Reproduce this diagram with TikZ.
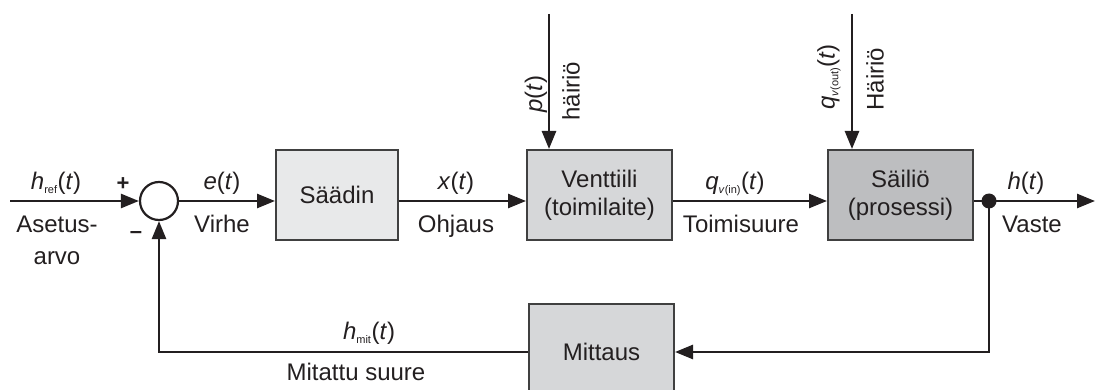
\documentclass[tikz,border=0pt]{standalone}
\usepackage{fontspec}
\setmainfont{Liberation Sans}
\usetikzlibrary{arrows.meta,calc}
\definecolor{txt}{HTML}{231F20}
\definecolor{boxA}{HTML}{E8E9EA}
\definecolor{boxB}{HTML}{D6D7D9}
\definecolor{boxC}{HTML}{BDBEC0}
\definecolor{edge}{HTML}{404040}
\begin{document}
\begin{tikzpicture}[x=1pt,y=-1pt,
  font=\fontsize{24}{28}\selectfont, text=txt,
  blk/.style={draw=edge, line width=2pt, minimum height=90pt, align=center, inner sep=0pt},
  sig/.style={line width=2.6pt, draw=txt, -{Triangle[length=18pt,width=14pt]}},
  lbl/.style={inner sep=0pt, anchor=base}]
\useasboundingbox (0,0) rectangle (1096,390);
% blocks
\node[circle, draw=txt, line width=2.2pt, minimum size=38pt, inner sep=0pt] (sum) at (159,201) {};
\node[blk, fill=boxA, minimum width=122pt] (saadin) at (337,195) {Säädin};
\node[blk, fill=boxB, minimum width=145pt] (vent) at (599.5,195) {Venttiili\\(toimilaite)};
\node[blk, fill=boxC, minimum width=145pt] (sail) at (900.5,195) {Säiliö\\(prosessi)};
\node[blk, fill=boxB, minimum width=145pt, minimum height=96pt] (mitt) at (601.5,352) {Mittaus};
% free ends
\coordinate (in) at (10,201);
\coordinate (out) at (1095,201);
\coordinate (br) at (989,201);
\coordinate (brd) at (989,352);
\coordinate (fbl) at (159,352);
\coordinate (dp) at (549,14);
\coordinate (dq) at (852,14);
% connectors
\draw[sig] (in) -- (sum.west);
\draw[sig] (sum.east) -- (sum.east -| saadin.west);
\draw[sig] (saadin.east |- sum) -- (vent.west |- sum);
\draw[sig] (vent.east |- sum) -- (sail.west |- sum);
\draw[sig] (sail.east |- sum) -- (out);
\draw[sig] (br) -- (brd) -- (mitt.east |- brd);
\draw[sig] (mitt.west |- fbl) -- (fbl) -- (sum.south);
\draw[sig] (dp) -- (dp |- vent.north);
\draw[sig] (dq) -- (dq |- sail.north);
\fill[txt] (br) circle (7.5pt);
% labels
\node[lbl] (l1) at (56,190) {\textit{h}\textsubscript{\fontsize{11}{12}\selectfont ref}(\textit{t})};
\node[lbl] (l2) at (57,233) {Asetus-};
\node[lbl] (l3) at (57,265) {arvo};
\node[font=\fontsize{22}{24}\selectfont\bfseries] (plus) at (123,184) {+};
\node[font=\fontsize{22}{24}\selectfont\bfseries] (minus) at (136,235) {–};
\node[lbl] (l4) at (222,190) {\textit{e}(\textit{t})};
\node[lbl] (l5) at (222,233) {Virhe};
\node[lbl] (l6) at (456,190) {\textit{x}(\textit{t})};
\node[lbl] (l7) at (456,233) {Ohjaus};
\node[lbl] (l8) at (735,190) {\textit{q}\textsubscript{\fontsize{11}{12}\selectfont\textit{v}(in)}(\textit{t})};
\node[lbl] (l9) at (741,233) {Toimisuure};
\node[lbl] (l10) at (1026,190) {\textit{h}(\textit{t})};
\node[lbl] (l11) at (1032,233) {Vaste};
\node[lbl] (l12) at (369,340) {\textit{h}\textsubscript{\fontsize{11}{12}\selectfont mit}(\textit{t})};
\node[lbl] (l13) at (356,381) {Mitattu suure};
\node[rotate=90, inner sep=0pt] (l14) at (536,94) {\textit{p}(\textit{t})};
\node[rotate=90, inner sep=0pt] (l15) at (571,91) {häiriö};
\node[rotate=90, inner sep=0pt] (l16) at (829,77) {\textit{q}\textsubscript{\fontsize{11}{12}\selectfont\textit{v}(out)}(\textit{t})};
\node[rotate=90, inner sep=0pt] (l17) at (875,79) {Häiriö};
\end{tikzpicture}
\end{document}
